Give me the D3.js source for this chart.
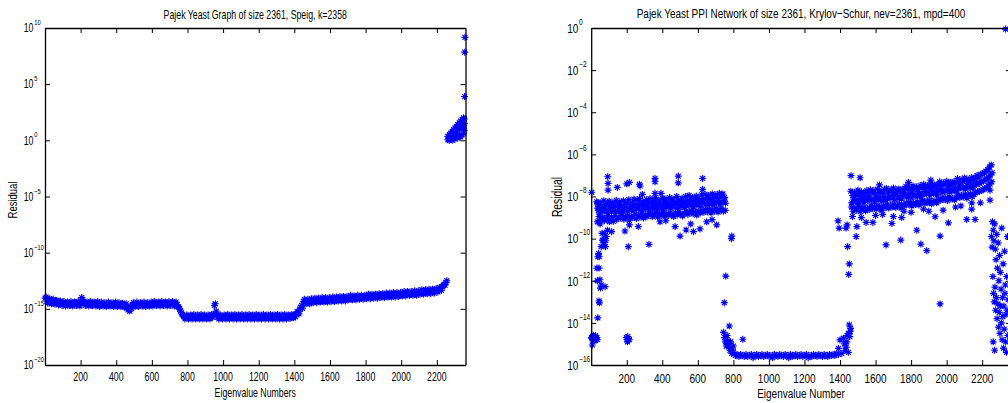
<!DOCTYPE html>
<html><head><meta charset="utf-8">
<script src="https://cdn.jsdelivr.net/npm/d3@7"></script>
<style>
body{margin:0;background:#fff;overflow:hidden}
svg{display:block}
text{font-family:"Liberation Sans",Arial,Helvetica,sans-serif;fill:#000}
</style></head><body>
<svg id="c" width="1008" height="403"></svg>
<script>
// ---------------- DATA (log10 of residual) ----------------
const leftTitle = "Pajek Yeast Graph of size 2361, Speig, k=2358";
const leftXLabel = "Eigenvalue Numbers";
// Left band sampled every 10th eigenvalue (two interleaved samplings)
const leftBandStart = 1, leftBandStep = 10, leftBand2Start = 6;
const leftBand = [
-14.05,-14.3,-14.15,-14.4,-14.25,-14.45,-14.3,-14.5,-14.4,-14.55,
-14.45,-14.6,-14.5,-14.55,-14.65,-14.5,-14.6,-14.45,-14.6,-14.55,
-14.3,-14.15,-14.45,-14.55,-14.6,-14.5,-14.65,-14.55,-14.6,-14.5,
-14.6,-14.65,-14.55,-14.6,-14.7,-14.55,-14.65,-14.6,-14.7,-14.6,
-14.65,-14.6,-14.7,-14.6,-14.75,-14.65,-14.9,-15.05,-14.8,-14.65,
-14.6,-14.7,-14.6,-14.65,-14.55,-14.65,-14.6,-14.55,-14.65,-14.6,
-14.55,-14.6,-14.5,-14.6,-14.55,-14.5,-14.6,-14.5,-14.55,-14.5,
-14.55,-14.5,-14.6,-14.5,-14.65,-14.85,-15.2,-15.5,-15.7,-15.75,
-15.7,-15.8,-15.65,-15.75,-15.7,-15.8,-15.7,-15.75,-15.65,-15.75,
-15.7,-15.8,-15.7,-15.65,-15.75,-14.7,-15.2,-15.75,-15.7,-15.8,
-15.7,-15.75,-15.65,-15.8,-15.7,-15.75,-15.7,-15.65,-15.8,-15.7,
-15.75,-15.7,-15.8,-15.65,-15.75,-15.7,-15.8,-15.7,-15.65,-15.75,
-15.7,-15.8,-15.7,-15.75,-15.65,-15.75,-15.7,-15.8,-15.7,-15.75,
-15.65,-15.75,-15.7,-15.8,-15.7,-15.75,-15.65,-15.7,-15.75,-15.6,
-15.55,-15.45,-15.3,-15.05,-14.7,-14.35,-14.4,-14.3,-14.35,-14.25,
-14.35,-14.25,-14.3,-14.2,-14.3,-14.2,-14.25,-14.15,-14.25,-14.2,
-14.15,-14.25,-14.1,-14.2,-14.15,-14.05,-14.2,-14.1,-14.15,-14.05,
-14.1,-14.0,-14.1,-14.05,-13.95,-14.05,-14.0,-13.9,-14.0,-13.95,
-13.9,-14.0,-13.85,-13.95,-13.9,-13.8,-13.9,-13.85,-13.8,-13.9,
-13.8,-13.85,-13.75,-13.85,-13.8,-13.7,-13.8,-13.75,-13.7,-13.8,
-13.7,-13.75,-13.65,-13.7,-13.6,-13.7,-13.65,-13.6,-13.65,-13.55,
-13.6,-13.55,-13.6,-13.5,-13.55,-13.45,-13.5,-13.45,-13.4,-13.45,
-13.35,-13.3,-13.2,-13.05,-12.85,-12.65
];
const leftBand2 = [
-13.95,-14.5,-14.1,-14.55,-14.15,-14.6,-14.25,-14.65,-14.3,-14.7,
-14.35,-14.75,-14.4,-14.7,-14.35,-14.75,-14.4,-14.7,-14.35,-14.75,
-14.0,-14.35,-14.7,-14.4,-14.75,-14.35,-14.7,-14.4,-14.75,-14.35,
-14.8,-14.4,-14.75,-14.45,-14.8,-14.4,-14.75,-14.45,-14.8,-14.4,
-14.8,-14.45,-14.8,-14.5,-14.85,-14.55,-15.1,-15.2,-14.95,-14.45,
-14.8,-14.4,-14.8,-14.45,-14.75,-14.4,-14.8,-14.45,-14.75,-14.4,
-14.75,-14.35,-14.7,-14.4,-14.75,-14.35,-14.7,-14.4,-14.75,-14.35,
-14.7,-14.35,-14.75,-14.4,-14.8,-15.0,-15.35,-15.6,-15.9,-15.55,
-15.9,-15.55,-15.9,-15.5,-15.9,-15.55,-15.9,-15.5,-15.9,-15.55,
-15.9,-15.55,-15.9,-15.5,-15.5,-14.55,-15.5,-15.9,-15.55,-15.9,
-15.55,-15.9,-15.5,-15.9,-15.55,-15.9,-15.5,-15.9,-15.55,-15.9,
-15.5,-15.9,-15.55,-15.9,-15.5,-15.9,-15.55,-15.9,-15.5,-15.9,
-15.55,-15.9,-15.5,-15.9,-15.55,-15.9,-15.5,-15.9,-15.55,-15.9,
-15.5,-15.9,-15.55,-15.9,-15.5,-15.9,-15.55,-15.85,-15.5,-15.8,
-15.7,-15.25,-15.45,-14.85,-14.95,-14.15,-14.55,-14.15,-14.55,-14.1,
-14.45,-14.05,-14.45,-14.05,-14.4,-14.0,-14.4,-14.0,-14.4,-14.0,
-14.35,-13.95,-14.35,-13.95,-14.3,-13.9,-14.3,-13.9,-14.3,-13.9,
-14.2,-13.8,-14.2,-13.85,-14.2,-13.8,-14.15,-13.8,-14.15,-13.8,
-14.1,-13.7,-14.1,-13.7,-14.05,-13.7,-14.05,-13.65,-14.0,-13.65,
-14.0,-13.6,-13.95,-13.6,-13.95,-13.55,-13.95,-13.55,-13.9,-13.55,
-13.85,-13.45,-13.85,-13.45,-13.8,-13.45,-13.8,-13.4,-13.8,-13.4,
-13.7,-13.3,-13.7,-13.3,-13.65,-13.25,-13.65,-13.25,-13.6,-13.2,
-13.5,-13.1,-13.35,-12.9,-12.9,-12.5
];
// Left: the unconverged cluster at the end plus the three top outliers
const leftTailIdx = [2262,2262,2270,2270,2278,2278,2286,2286,2294,2294,2294,2302,2302,2302,2310,2310,2310,2318,2318,2318,2326,2326,2326,2334,2334,2334,2342,2342,2342,2350,2350,2350,2355,2355,2355,2356,2357,2358];
const leftTailVal = [0.35,0.05,0.5,0.0,0.65,0.1,0.8,0.0,0.95,0.2,0.5,1.1,0.1,0.6,1.25,0.3,0.8,1.4,0.2,0.9,1.55,0.4,1.0,1.7,0.3,1.1,1.85,0.5,1.2,2.0,0.6,1.3,1.9,1.5,0.9,3.9,7.85,9.17];

// Right: Krylov-Schur. Dense bands sampled every 10th eigenvalue.
const rightTitle = "Pajek Yeast PPI Network of size 2361, Krylov\u2212Schur, nev=2361, mpd=400";
const rightXLabel = "Eigenvalue Number";
const rightMainStart = 31, rightMainStep = 10;
const rightMainHi = [
-8.25,-8.45,-8.3,-8.5,-8.2,-8.4,-8.35,-8.22,-8.48,-8.3,
-8.42,-8.18,-8.35,-8.25,-8.45,-8.2,-8.38,-8.28,-8.15,-8.4,
-8.3,-8.12,-8.38,-8.2,-8.1,-8.35,-8.25,-8.4,-8.15,-8.28,
-8.1,-8.32,-8.22,-8.05,-8.3,-8.18,-8.35,-8.08,-8.25,-8.12,
-8.28,-8.05,-8.2,-8.12,-8.3,-8.0,-8.18,-8.25,-8.08,-8.22,
-8.0,-8.2,-7.95,-8.15,-8.05,-8.22,-7.98,-8.1,-8.18,-7.92,
-8.12,-7.9,-8.05,-7.95,-8.15,-7.88,-8.02,-7.92,-8.1,-7.85,
-7.98,-7.88,-8.05];
const rightMainMid = [
-8.55,-8.78,-8.6,-8.72,-8.5,-8.68,-8.8,-8.58,-8.7,-8.52,
-8.7,-8.48,-8.62,-8.75,-8.55,-8.66,-8.5,-8.72,-8.58,-8.64,
-8.45,-8.65,-8.52,-8.6,-8.42,-8.68,-8.5,-8.58,-8.46,-8.62,
-8.58,-8.4,-8.55,-8.45,-8.62,-8.38,-8.52,-8.6,-8.42,-8.5,
-8.38,-8.55,-8.42,-8.5,-8.35,-8.58,-8.4,-8.48,-8.32,-8.52,
-8.45,-8.3,-8.42,-8.35,-8.5,-8.28,-8.4,-8.33,-8.46,-8.3,
-8.22,-8.38,-8.28,-8.35,-8.2,-8.4,-8.25,-8.32,-8.2,-8.36,
-8.28,-8.2,-8.32];
const rightMainLo = [
-9.2,-8.95,-9.1,-8.98,-9.15,-9.05,-8.9,-9.12,-9.0,-9.18,
-8.9,-9.1,-8.95,-9.02,-8.88,-9.08,-8.98,-8.92,-9.12,-8.95,
-9.0,-8.85,-9.05,-8.9,-8.98,-8.82,-9.02,-8.88,-8.96,-8.84,
-8.8,-8.95,-8.86,-8.78,-8.98,-8.84,-8.9,-8.76,-8.92,-8.82,
-8.9,-8.76,-8.85,-8.95,-8.78,-8.88,-8.72,-8.84,-8.92,-8.8,
-8.7,-8.85,-8.75,-8.68,-8.82,-8.72,-8.88,-8.7,-8.78,-8.66,
-8.75,-8.62,-8.72,-8.6,-8.78,-8.65,-8.7,-8.58,-8.74,-8.64,
-8.6,-8.7,-8.66];
const rightLowStart = 771, rightLowStep = 10;
const rightLow = [
-15.0,-15.3,-15.45,-15.4,-15.55,-15.5,-15.6,-15.5,-15.55,-15.6,
-15.5,-15.6,-15.55,-15.5,-15.65,-15.55,-15.5,-15.6,-15.55,-15.5,
-15.6,-15.55,-15.5,-15.6,-15.55,-15.65,-15.5,-15.55,-15.6,-15.5,
-15.55,-15.6,-15.5,-15.55,-15.65,-15.5,-15.6,-15.55,-15.5,-15.6,
-15.55,-15.5,-15.6,-15.55,-15.5,-15.65,-15.55,-15.6,-15.5,-15.55,
-15.6,-15.5,-15.55,-15.6,-15.5,-15.55,-15.6,-15.5,-15.55,-15.5,
-15.55,-15.45,-15.5];
const rightUpperStart = 1461, rightUpperStep = 10;
const rightUpperHi = [
-7.75,-7.95,-7.8,-7.92,-7.7,-7.88,-7.78,-7.98,-7.82,-7.72,
-7.88,-7.68,-7.8,-7.72,-7.9,-7.65,-7.82,-7.75,-7.85,-7.66,
-7.62,-7.8,-7.68,-7.75,-7.6,-7.82,-7.7,-7.64,-7.78,-7.66,
-7.7,-7.52,-7.65,-7.58,-7.72,-7.5,-7.62,-7.55,-7.68,-7.48,
-7.58,-7.42,-7.55,-7.48,-7.62,-7.4,-7.52,-7.45,-7.6,-7.42,
-7.3,-7.45,-7.35,-7.42,-7.28,-7.4,-7.32,-7.48,-7.3,-7.38,
-7.15,-7.3,-7.2,-7.28,-7.12,-7.25,-7.18,-7.3,-7.1,-7.22,
-7.1,-7.0,-7.08,-6.95,-6.92,-6.88,-6.8,-6.72,-6.6,-6.5];
const rightUpperMid = [
-8.3,-8.12,-8.25,-8.15,-8.32,-8.1,-8.22,-8.28,-8.08,-8.2,
-8.05,-8.2,-8.1,-8.25,-8.02,-8.15,-8.08,-8.22,-8.0,-8.18,
-8.12,-7.98,-8.08,-8.0,-8.15,-7.95,-8.1,-8.02,-8.12,-7.96,
-7.88,-8.02,-7.92,-8.05,-7.85,-8.0,-7.9,-7.98,-7.85,-8.02,
-7.9,-7.78,-7.88,-7.8,-7.95,-7.75,-7.86,-7.8,-7.92,-7.76,
-7.65,-7.8,-7.7,-7.76,-7.62,-7.78,-7.68,-7.75,-7.64,-7.74,
-7.62,-7.5,-7.6,-7.55,-7.65,-7.48,-7.58,-7.52,-7.6,-7.45,
-7.42,-7.35,-7.38,-7.3,-7.28,-7.2,-7.18,-7.08,-6.98,-6.88];
const rightUpperLo = [
-8.5,-8.7,-8.55,-8.65,-8.48,-8.72,-8.58,-8.52,-8.68,-8.55,
-8.62,-8.45,-8.58,-8.48,-8.6,-8.42,-8.55,-8.65,-8.46,-8.52,
-8.4,-8.55,-8.42,-8.5,-8.38,-8.52,-8.45,-8.36,-8.55,-8.42,
-8.42,-8.3,-8.38,-8.28,-8.45,-8.32,-8.38,-8.25,-8.4,-8.3,
-8.2,-8.32,-8.22,-8.3,-8.18,-8.35,-8.25,-8.2,-8.3,-8.15,
-8.18,-8.05,-8.15,-8.08,-8.2,-8.02,-8.12,-8.1,-8.16,-8.05,
-7.92,-8.05,-7.95,-8.02,-7.9,-8.08,-7.95,-7.88,-8.0,-7.9,
-7.82,-7.78,-7.75,-7.72,-7.68,-7.62,-7.6,-7.5,-7.4,-7.3];
// Right: scattered points (eigenvalue number, log10 residual)
const rightScatterIdx = [
2,5,8,11,14,17,20,23,26,29,32,35,6,3,12,18,24,
198,202,206,210,214,204,
37,44,46,56,49,52,78,44,37,42,56,69,61,82,91,102,50,40,35,34,32,45,63,75,
93,95,95,147,215,200,271,275,359,359,359,490,490,627,627,288,393,
209,325,190,215,265,387,472,500,534,575,612,650,706,115,85,72,80,420,560,680,
791,789,757,749,777,853,745,750,755,760,765,770,780,785,795,800,
1391,1400,1419,1438,1447,1460,1455,1429,1447,1410,1425,1440,1452,1458,1435,
1389,1395,1434,1443,1452,1449,1495,1491,1440,
1462,1513,1622,1785,1911,
1547,1585,1659,1692,1742,1747,1832,1855,1888,1935,1963,2010,2113,2160,2244,2244,1963,1600,1700,1800,1900,2050,2141,2141,1470,1520,1980,1640,1760,1870,2080,2190,
2258,2262,2266,2270,2274,2278,2282,2286,2290,2294,2298,2302,2306,2310,2314,2318,2322,2326,2330,2334,2338,2342,2346,
2260,2264,2268,2272,2276,2280,2284,2288,2292,2296,2300,2304,2308,2312,2316,2320,2324,2328,2332,2336,2340,2344,2262,2270,2252,2256,2332];
const rightScatterVal = [
-14.7,-14.75,-14.65,-14.8,-14.7,-14.75,-14.65,-14.8,-14.7,-14.75,-14.7,-14.8,-15.05,-7.8,-14.6,-14.85,-14.6,
-14.7,-14.8,-14.65,-14.75,-14.8,-14.9,
-13.76,-12.96,-13.05,-12.2,-11.95,-12.35,-12.28,-11.4,-10.86,-10.7,-10.38,-10.07,-9.75,-10.1,-9.6,-9.2,-9.3,-8.65,-8.3,-12.0,-11.4,-10.86,-10.07,-9.75,
-7.06,-7.38,-7.7,-7.57,-7.33,-7.4,-7.42,-7.5,-7.14,-7.3,-7.85,-7.03,-7.35,-7.14,-7.66,-7.9,-7.85,
-10.38,-10.27,-9.64,-9.35,-9.43,-9.2,-9.43,-9.88,-9.59,-9.67,-9.54,-9.2,-9.35,-9.67,-9.9,-10.3,-10.38,-9.15,-9.3,-9.1,
-9.88,-10.0,-11.78,-13.04,-14.15,-14.78,-14.45,-14.7,-14.9,-15.1,-14.6,-14.85,-15.2,-14.9,-15.25,-15.1,
-15.21,-14.81,-14.73,-14.9,-14.5,-14.26,-14.65,-15.3,-15.4,-15.45,-15.0,-14.6,-14.1,-14.4,-15.15,
-9.16,-9.5,-9.5,-10.38,-11.2,-11.7,-9.43,-9.9,-9.35,
-7.01,-7.11,-7.45,-7.33,-7.22,
-9.23,-9.23,-10.3,-9.28,-10.07,-9.0,-9.6,-10.26,-10.57,-8.96,-9.88,-9.25,-9.09,-9.09,-8.17,-7.7,-13.1,-8.9,-8.95,-8.75,-8.7,-8.5,-8.3,-8.6,-8.95,-9.0,-8.65,-8.85,-8.7,-8.6,-8.45,-8.3,
-9.2,-9.6,-10.1,-9.3,-10.5,-11.0,-9.8,-11.4,-10.2,-12.0,-10.8,-11.6,-12.4,-9.5,-12.8,-11.2,-13.2,-10.6,-12.2,-13.6,-11.8,-9.9,-12.9,
-11.8,-12.6,-13.0,-12.3,-13.4,-12.8,-13.8,-13.1,-14.2,-13.5,-14.5,-13.2,-14.0,-14.8,-13.7,-15.2,-14.3,-12.6,-14.9,-15.4,-13.4,-14.6,-14.9,-15.3,-9.9,-10.4,-0.05];

const xTicks = [200,400,600,800,1000,1200,1400,1600,1800,2000,2200];
const leftYExps = [-20,-15,-10,-5,0,5,10];
const rightYExps = [-16,-14,-12,-10,-8,-6,-4,-2,0];
const yLabel = "Residual";

// ---------------- DRAWING ----------------
const svg = d3.select("#c");
const BLUE = "#0000ff";

function star(r){
  const d = r*0.7071;
  return `M${-r},0H${r}M0,${-r}V${r}M${-d},${-d}L${d},${d}M${-d},${d}L${d},${-d}`;
}
function label(g, x, y, str, fs, anchor, sx, rot){
  return g.append("text")
    .attr("transform", `translate(${x},${y})${rot?` rotate(${rot})`:""} scale(${sx},1)`)
    .attr("text-anchor", anchor).attr("font-size", fs).text(str);
}

function panel(p){
  const g = svg.append("g");
  const x = d3.scaleLinear().domain([0, 2361]).range([p.left, p.right]);
  const y = d3.scaleLog().domain([Math.pow(10,p.yExps[0]), Math.pow(10,p.yExps[p.yExps.length-1])]).range([p.bottom, p.top]);

  g.append("g").selectAll("path").data(p.points).join("path")
    .attr("d", star(3.5))
    .attr("transform", d => `translate(${x(d[0]).toFixed(2)},${y(Math.pow(10,d[1])).toFixed(2)})`)
    .attr("fill","none").attr("stroke",BLUE).attr("stroke-width",1.15);

  const yt = p.yExps.map(e => Math.pow(10,e));
  const ax = [
    [d3.axisBottom(x).tickValues(xTicks), `translate(0,${p.bottom})`],
    [d3.axisTop(x).tickValues(xTicks), `translate(0,${p.top})`],
    [d3.axisLeft(y).tickValues(yt), `translate(${p.left},0)`],
    [d3.axisRight(y).tickValues(yt), `translate(${p.right},0)`]
  ];
  ax.forEach(([a,tr]) => {
    const ga = g.append("g").attr("transform", tr)
      .call(a.tickSize(-5).tickSizeOuter(0).tickFormat(""));
    ga.select(".domain").attr("stroke","#000").attr("stroke-width",1.3);
    ga.selectAll(".tick line").attr("stroke","#000").attr("stroke-width",1);
  });

  xTicks.forEach(v => label(g, x(v), p.xTickY, String(v), p.fs, "middle", p.sx));
  p.yExps.forEach(e => {
    const yy = y(Math.pow(10,e));
    const gg = g.append("g").attr("transform", `translate(${p.yBaseX},${yy + p.fs*0.36}) scale(${p.sx},1)`);
    gg.append("text").attr("text-anchor","end").attr("font-size",p.fs).text("10");
    gg.append("text").attr("x",1).attr("y",-p.fs*0.6).attr("text-anchor","start")
      .attr("font-size",p.fs*0.66).text(String(e).replace("-","\u2212"));
  });
  label(g, (p.left+p.right)/2, p.titleY, p.title, p.fs, "middle", p.sx);
  label(g, (p.left+p.right)/2, p.xLabelY, p.xLabel, p.fs, "middle", p.sx);
  label(g, p.yLabelX, p.yLabelY, yLabel, p.yLabelFs, "middle", p.sx, -90);
}

const leftPts = [];
leftBand.forEach((v,i) => leftPts.push([leftBandStart + i*leftBandStep, v]));
leftBand2.forEach((v,i) => leftPts.push([leftBand2Start + i*leftBandStep, v]));
leftTailIdx.forEach((ix,i) => leftPts.push([ix, leftTailVal[i]]));

const rightPts = [];
rightMainHi.forEach((v,i) => rightPts.push([rightMainStart + i*rightMainStep, v]));
rightMainMid.forEach((v,i) => rightPts.push([rightMainStart + 5 + i*rightMainStep, v]));
rightMainLo.forEach((v,i) => rightPts.push([rightMainStart + 3 + i*rightMainStep, v]));
rightLow.forEach((v,i) => rightPts.push([rightLowStart + i*rightLowStep, v]));
rightUpperHi.forEach((v,i) => rightPts.push([rightUpperStart + i*rightUpperStep, v]));
rightUpperMid.forEach((v,i) => rightPts.push([rightUpperStart + 5 + i*rightUpperStep, v]));
rightUpperLo.forEach((v,i) => rightPts.push([rightUpperStart + 3 + i*rightUpperStep, v]));
rightScatterIdx.forEach((ix,i) => rightPts.push([ix, rightScatterVal[i]]));

panel({left:45, right:465.5, top:28, bottom:365, yExps:leftYExps, points:leftPts,
  fs:12, sx:0.73, xTickY:380.5, titleY:18.5, xLabelY:396.5, yLabelX:16.5, yLabelY:200, yLabelFs:13, yBaseX:33.5,
  title:leftTitle, xLabel:leftXLabel});
panel({left:591.2, right:1010.8, top:28, bottom:365, yExps:rightYExps, points:rightPts,
  fs:13.5, sx:0.74, xTickY:382.5, titleY:17.5, xLabelY:397.5, yLabelX:561.5, yLabelY:197, yLabelFs:14, yBaseX:578.3,
  title:rightTitle, xLabel:rightXLabel});
</script>
</body></html>
